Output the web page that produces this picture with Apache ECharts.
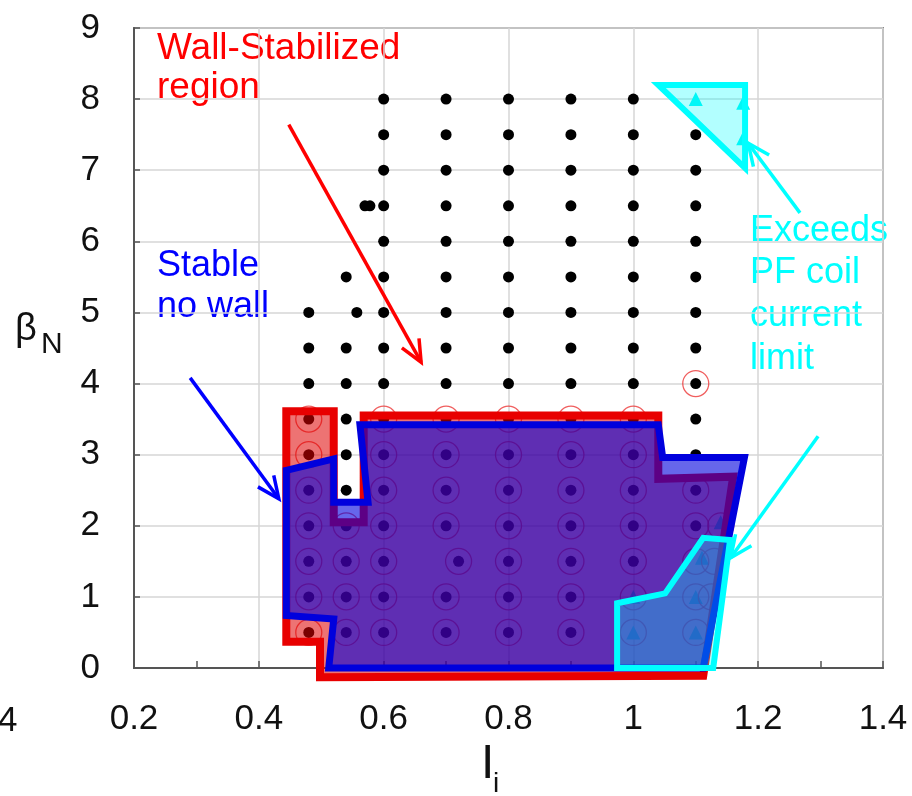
<!DOCTYPE html>
<html>
<head>
<meta charset="utf-8">
<script src="https://cdn.jsdelivr.net/npm/echarts@6/dist/echarts.min.js"></script>
<style>
  html, body { margin: 0; padding: 0; background: #ffffff; }
  #chart { width: 912px; height: 796px; }
</style>
</head>
<body>
<div id="chart"></div>
<script>
// ---- scan points (li, betaN) ----
const scanColumnsLi = [0.48, 0.54, 0.6, 0.7, 0.8, 0.9, 1.0, 1.1];
const scanColumnsBeta = [
  [0.5, 1, 1.5, 2, 2.5, 3, 3.5, 4, 4.5, 5],
  [0.5, 1, 1.5, 2, 2.5, 3, 3.5, 4, 4.5, 5.5],
  [0.5, 1, 1.5, 2, 2.5, 3, 3.5, 4, 4.5, 5, 5.5, 6, 6.5, 7, 7.5, 8],
  [0.5, 1, 2, 2.5, 3, 3.5, 4, 4.5, 5, 5.5, 6, 6.5, 7, 7.5, 8],
  [0.5, 1, 1.5, 2, 2.5, 3, 3.5, 4, 4.5, 5, 5.5, 6, 6.5, 7, 7.5, 8],
  [0.5, 1, 1.5, 2, 2.5, 3, 3.5, 4, 4.5, 5, 5.5, 6, 6.5, 7, 7.5, 8],
  [1.5, 2, 2.5, 3, 3.5, 4, 4.5, 5, 5.5, 6, 6.5, 7, 7.5, 8],
  [2, 2.5, 3, 3.5, 4, 4.5, 5, 5.5, 6, 6.5, 7, 7.5]
];
const scanExtraPoints = [[0.557, 5], [0.57, 6.5], [0.578, 6.5], [0.72, 1.5]];

// cases stabilized by the wall (open red circles)
const wallColumnsLi = [0.48, 0.54, 0.6, 0.7, 0.8, 0.9, 1.0, 1.1];
const wallColumnsBeta = [
  [0.5, 1, 1.5, 2, 2.5, 3, 3.5],
  [0.5, 1, 1.5, 2],
  [0.5, 1, 1.5, 2, 2.5, 3, 3.5],
  [0.5, 1, 2, 2.5, 3, 3.5],
  [0.5, 1, 1.5, 2, 2.5, 3, 3.5],
  [0.5, 1, 1.5, 2, 2.5, 3, 3.5],
  [0.5, 1, 1.5, 2, 2.5, 3, 3.5],
  [0.5, 1, 1.5, 2, 2.5, 4]
];
const wallExtraPoints = [[0.72, 1.5], [1.14, 2.0], [1.13, 1.5], [1.125, 1.0]];

// cases exceeding the PF coil current limit (cyan triangles)
const pfLimitPoints = [
  [1.1, 8.0], [1.176, 7.95], [1.176, 7.45],
  [1.0, 1.0], [1.0, 0.5], [1.1, 1.0], [1.1, 0.5], [1.11, 1.55], [1.14, 2.05]
];

// ---- region boundaries ----
const wallStabilizedRegion = [
  [0.444, 3.61], [0.520, 3.61], [0.520, 2.05], [0.568, 2.05], [0.568, 3.55],
  [1.040, 3.55], [1.040, 2.66], [1.160, 2.69], [1.112, -0.11], [0.498, -0.13],
  [0.498, 0.37], [0.444, 0.37]
];
const noWallStableRegion = [
  [0.444, 2.78], [0.520, 2.94], [0.520, 2.33], [0.575, 2.33], [0.562, 3.42],
  [1.040, 3.42], [1.047, 2.96], [1.178, 2.96], [1.112, 0.0], [0.512, 0.0],
  [0.520, 0.69], [0.444, 0.74]
];
const pfLimitRegionTop = [[1.040, 8.20], [1.179, 8.20], [1.179, 7.03]];
const pfLimitRegionLow = [
  [0.974, 0.91], [1.051, 1.05], [1.112, 1.83], [1.155, 1.80], [1.128, 0.0], [0.974, 0.0]
];

// annotation arrows: [fromLi, fromBeta, toLi, toBeta]
const arrowSegments = [
  [0.448, 7.64, 0.660, 4.30],
  [0.290, 4.08, 0.432, 2.38],
  [1.267, 6.40, 1.184, 7.38],
  [1.296, 3.26, 1.156, 1.55]
];
const arrowColors = ['#ff0000', '#0000ff', '#00ffff', '#00ffff'];

function columnsToPoints(xs, ys) {
  const out = [];
  xs.forEach((x, i) => ys[i].forEach(y => out.push([x, y])));
  return out;
}
const scanPoints = columnsToPoints(scanColumnsLi, scanColumnsBeta).concat(scanExtraPoints);
const wallPoints = columnsToPoints(wallColumnsLi, wallColumnsBeta).concat(wallExtraPoints);

const FONT = '"Liberation Sans", Arial, Helvetica, sans-serif';

function regionSeries(points, fill, stroke, width, z) {
  return {
    type: 'custom',
    coordinateSystem: 'cartesian2d',
    silent: true,
    z: z,
    clip: false,
    data: points,
    encode: { x: 0, y: 1 },
    renderItem: function (params, api) {
      if (params.dataIndex !== 0) return null;
      return {
        type: 'polygon',
        shape: { points: points.map(p => api.coord(p)) },
        style: { fill: fill, stroke: stroke, lineWidth: width, lineJoin: 'miter', miterLimit: 4 }
      };
    }
  };
}

const chart = echarts.init(document.getElementById('chart'), null, { renderer: 'canvas' });

chart.setOption({
  animation: false,
  backgroundColor: '#ffffff',
  grid: {
    left: 134, right: 29, top: 28, bottom: 128,
    show: true, borderColor: '#8a8a8a', borderWidth: 2,
    containLabel: false, outerBoundsMode: 'none'
  },
  xAxis: {
    type: 'value', min: 0.2, max: 1.4, interval: 0.2,
    axisLine: { show: true, onZero: false, lineStyle: { color: '#555', width: 2 } },
    axisTick: { show: true, inside: true, length: 7, lineStyle: { color: '#555', width: 1.5 } },
    minorTick: { show: true, splitNumber: 2, length: 7, lineStyle: { color: '#555', width: 1.5 } },
    splitLine: { show: true, lineStyle: { color: '#d6d6d6', width: 1.5 } },
    axisLabel: { fontSize: 35, fontFamily: FONT, color: '#111', margin: 34 }
  },
  yAxis: {
    type: 'value', min: 0, max: 9, interval: 1,
    axisLine: { show: true, onZero: false, lineStyle: { color: '#555', width: 2 } },
    axisTick: { show: true, inside: true, length: 6, lineStyle: { color: '#555', width: 1.5 } },
    splitLine: { show: true, lineStyle: { color: '#d6d6d6', width: 1.5 } },
    axisLabel: { fontSize: 35, fontFamily: FONT, color: '#111', margin: 34 }
  },
  series: [
    {
      type: 'scatter', data: scanPoints, symbol: 'circle', symbolSize: 11,
      itemStyle: { color: '#000000', opacity: 1 }, z: 2, silent: true, clip: false
    },
    {
      type: 'scatter', data: pfLimitPoints, symbol: 'triangle', symbolSize: 14,
      itemStyle: { color: '#00f4f4', opacity: 1 }, z: 2, silent: true, clip: false
    },
    {
      type: 'scatter', data: wallPoints, symbol: 'circle', symbolSize: 26,
      itemStyle: { color: 'rgba(0,0,0,0)', borderColor: 'rgba(235,40,40,0.75)', borderWidth: 1.3, opacity: 1 },
      z: 3, silent: true, clip: false
    },
    regionSeries(wallStabilizedRegion, 'rgba(222,0,0,0.55)', '#e80000', 8, 4),
    regionSeries(noWallStableRegion, 'rgba(0,0,222,0.6)', '#0000dd', 7, 5),
    regionSeries(pfLimitRegionLow, 'rgba(0,255,255,0.3)', '#00ffff', 6, 6),
    regionSeries(pfLimitRegionTop, 'rgba(0,255,255,0.3)', '#00ffff', 6, 6),
    {
      type: 'custom', coordinateSystem: 'cartesian2d', silent: true, z: 7, clip: false,
      data: arrowSegments, encode: { x: [0, 2], y: [1, 3] },
      renderItem: function (params, api) {
        const a = api.coord([api.value(0), api.value(1)]);
        const b = api.coord([api.value(2), api.value(3)]);
        const ang = Math.atan2(b[1] - a[1], b[0] - a[0]);
        const L = 24, spread = 0.42;
        const w1 = [b[0] - L * Math.cos(ang - spread), b[1] - L * Math.sin(ang - spread)];
        const w2 = [b[0] - L * Math.cos(ang + spread), b[1] - L * Math.sin(ang + spread)];
        const color = arrowColors[params.dataIndex];
        return {
          type: 'group',
          children: [
            { type: 'line', shape: { x1: a[0], y1: a[1], x2: b[0], y2: b[1] },
              style: { stroke: color, lineWidth: 3.5 } },
            { type: 'polyline', shape: { points: [w1, b, w2] },
              style: { stroke: color, lineWidth: 3.5, fill: null } }
          ]
        };
      }
    }
  ],
  graphic: [
    { type: 'text', x: 157, y: 49, style: { text: 'Wall-Stabilized', fill: '#ff0000', font: '37px ' + FONT, verticalAlign: 'middle' } },
    { type: 'text', x: 157, y: 88, style: { text: 'region', fill: '#ff0000', font: '37px ' + FONT, verticalAlign: 'middle' } },
    { type: 'text', x: 157, y: 266, style: { text: 'Stable', fill: '#0000ff', font: '36px ' + FONT, verticalAlign: 'middle' } },
    { type: 'text', x: 157, y: 307, style: { text: 'no wall', fill: '#0000ff', font: '36px ' + FONT, verticalAlign: 'middle' } },
    { type: 'text', x: 750, y: 231, style: { text: 'Exceeds', fill: '#00ffff', font: '36px ' + FONT, verticalAlign: 'middle' } },
    { type: 'text', x: 750, y: 273, style: { text: 'PF coil', fill: '#00ffff', font: '36px ' + FONT, verticalAlign: 'middle' } },
    { type: 'text', x: 750, y: 316, style: { text: 'current', fill: '#00ffff', font: '36px ' + FONT, verticalAlign: 'middle' } },
    { type: 'text', x: 750, y: 359, style: { text: 'limit', fill: '#00ffff', font: '36px ' + FONT, verticalAlign: 'middle' } },
    { type: 'text', x: 15, y: 330, style: { text: 'β', fill: '#111', font: '38px ' + FONT, verticalAlign: 'middle' } },
    { type: 'text', x: 41, y: 345, style: { text: 'N', fill: '#111', font: '30px ' + FONT, verticalAlign: 'middle' } },
    { type: 'text', x: 481, y: 765, style: { text: 'I', fill: '#111', font: '48px ' + FONT, verticalAlign: 'middle' } },
    { type: 'text', x: 493, y: 784, style: { text: 'i', fill: '#111', font: '28px ' + FONT, verticalAlign: 'middle' } },
    { type: 'text', x: -2, y: 721, style: { text: '4', fill: '#111', font: '35px ' + FONT, verticalAlign: 'middle' } }
  ]
});
</script>
</body>
</html>
